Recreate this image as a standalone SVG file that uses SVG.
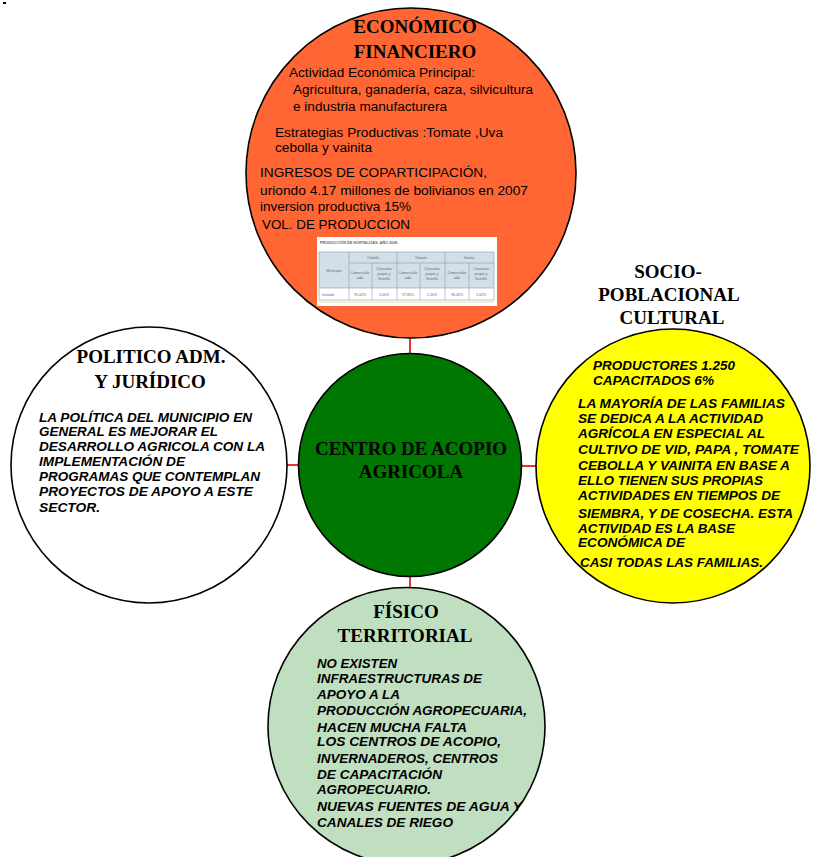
<svg xmlns="http://www.w3.org/2000/svg" width="817" height="857" viewBox="0 0 817 857">
<style>
.node{stroke:#000;stroke-width:1.6}
.title{font-family:"Liberation Serif","Times New Roman",serif;font-weight:bold;font-size:19px;fill:#000;text-anchor:middle}
.body{font-family:"Liberation Sans",Arial,sans-serif;font-size:12px;fill:#000}
.bi{font-family:"Liberation Sans",Arial,sans-serif;font-size:12px;font-weight:bold;font-style:italic;fill:#000}
.conn{stroke:#E00000;stroke-width:1.6;fill:none}
.tiny{font-family:"Liberation Sans",Arial,sans-serif;font-size:3.6px;fill:#6a6a6a;text-anchor:middle}
.tb{fill:none;stroke:#8a9aaa;stroke-width:0.6}
</style>
<rect width="817" height="857" fill="#fff"/>
<rect x="3" y="2" width="3" height="2" fill="#000"/>
<g id="connectors">
<line class="conn" x1="410" y1="337" x2="410" y2="354"/>
<line class="conn" x1="287" y1="465" x2="299" y2="465"/>
<line class="conn" x1="521" y1="466" x2="537" y2="466"/>
<line class="conn" x1="410" y1="576" x2="410" y2="588"/>
</g>
<g id="economico">
<circle class="node" cx="411" cy="173" r="165" fill="#FF6633"/>
<text class="title" x="415" y="33">ECONÓMICO</text>
<text class="title" x="415" y="58">FINANCIERO</text>
<text class="body" x="289" y="77" textLength="186" lengthAdjust="spacingAndGlyphs">Actividad Económica Principal:</text>
<text class="body" x="293" y="94" textLength="240" lengthAdjust="spacingAndGlyphs">Agricultura, ganadería, caza, silvicultura</text>
<text class="body" x="293" y="111" textLength="154" lengthAdjust="spacingAndGlyphs">e industria manufacturera</text>
<text class="body" x="275" y="137" textLength="228" lengthAdjust="spacingAndGlyphs">Estrategias Productivas :Tomate ,Uva</text>
<text class="body" x="275" y="152" textLength="97" lengthAdjust="spacingAndGlyphs">cebolla y vainita</text>
<text class="body" x="260" y="177" textLength="227" lengthAdjust="spacingAndGlyphs">INGRESOS DE COPARTICIPACIÓN,</text>
<text class="body" x="260" y="195" textLength="268" lengthAdjust="spacingAndGlyphs">uriondo 4.17 millones de bolivianos en 2007</text>
<text class="body" x="260" y="211" textLength="151" lengthAdjust="spacingAndGlyphs">inversion productiva 15%</text>
<text class="body" x="262" y="229" textLength="148" lengthAdjust="spacingAndGlyphs">VOL. DE PRODUCCION</text>
<g id="tabla">
<rect x="317" y="237" width="180" height="69" fill="#fff"/>
<text x="320" y="244" style="font-family:'Liberation Sans',Arial,sans-serif;font-size:3.8px;font-weight:bold;fill:#666">PRODUCCIÓN DE HORTALIZAS, AÑO 2008</text>
<rect x="319" y="252" width="175" height="36" fill="#D2DEE9"/>
<rect x="319" y="252" width="175" height="48" class="tb"/>
<line class="tb" x1="319" y1="288" x2="494" y2="288"/>
<line class="tb" x1="349" y1="252" x2="349" y2="300"/>
<line class="tb" x1="397" y1="252" x2="397" y2="300"/>
<line class="tb" x1="445" y1="252" x2="445" y2="300"/>
<line class="tb" x1="372" y1="263" x2="372" y2="300"/>
<line class="tb" x1="420" y1="263" x2="420" y2="300"/>
<line class="tb" x1="469" y1="263" x2="469" y2="300"/>
<line class="tb" x1="349" y1="263" x2="494" y2="263"/>
<line x1="319" y1="302" x2="494" y2="302" stroke="#e6e0a8" stroke-width="1"/>
<text class="tiny" x="334" y="272">Municipio</text>
<text class="tiny" x="373" y="259">Cebolla</text>
<text class="tiny" x="421" y="259">Tomate</text>
<text class="tiny" x="469" y="259">Vainita</text>
<text class="tiny" x="360" y="274">Comercializ<tspan x="360" dy="5">ado</tspan></text>
<text class="tiny" x="384" y="270">Consumo<tspan x="384" dy="5">propio y</tspan><tspan x="384" dy="5">Semilla</tspan></text>
<text class="tiny" x="408" y="274">Comercializ<tspan x="408" dy="5">ado</tspan></text>
<text class="tiny" x="432" y="270">Consumo<tspan x="432" dy="5">propio y</tspan><tspan x="432" dy="5">Semilla</tspan></text>
<text class="tiny" x="457" y="274">Comercializ<tspan x="457" dy="5">ado</tspan></text>
<text class="tiny" x="481" y="270">Consumo<tspan x="481" dy="5">propio y</tspan><tspan x="481" dy="5">Semilla</tspan></text>
<text class="tiny" x="328" y="296">Uriondo</text>
<text class="tiny" x="360" y="296">95,00%</text>
<text class="tiny" x="384" y="296">5,00%</text>
<text class="tiny" x="408" y="296">97,80%</text>
<text class="tiny" x="432" y="296">2,20%</text>
<text class="tiny" x="457" y="296">98,00%</text>
<text class="tiny" x="481" y="296">2,00%</text>
</g>
</g>
<g id="socio">
<circle class="node" cx="673" cy="466" r="137" fill="#FFFF00"/>
<text class="title" x="668" y="278">SOCIO-</text>
<text class="title" x="669" y="301">POBLACIONAL</text>
<text class="title" x="672" y="324">CULTURAL</text>
<text class="bi" x="593" y="370" textLength="142" lengthAdjust="spacingAndGlyphs">PRODUCTORES 1.250</text>
<text class="bi" x="593" y="385" textLength="121" lengthAdjust="spacingAndGlyphs">CAPACITADOS 6%</text>
<text class="bi" x="578" y="408" textLength="207" lengthAdjust="spacingAndGlyphs">LA MAYORÍA DE LAS FAMILIAS</text>
<text class="bi" x="578" y="423" textLength="185" lengthAdjust="spacingAndGlyphs">SE DEDICA A LA ACTIVIDAD</text>
<text class="bi" x="578" y="438" textLength="187" lengthAdjust="spacingAndGlyphs">AGRÍCOLA EN ESPECIAL AL</text>
<text class="bi" x="578" y="454" textLength="221" lengthAdjust="spacingAndGlyphs">CULTIVO DE VID, PAPA , TOMATE</text>
<text class="bi" x="578" y="470" textLength="212" lengthAdjust="spacingAndGlyphs">CEBOLLA Y VAINITA EN BASE A</text>
<text class="bi" x="578" y="485" textLength="185" lengthAdjust="spacingAndGlyphs">ELLO TIENEN SUS PROPIAS</text>
<text class="bi" x="578" y="500" textLength="202" lengthAdjust="spacingAndGlyphs">ACTIVIDADES EN TIEMPOS DE</text>
<text class="bi" x="578" y="518" textLength="215" lengthAdjust="spacingAndGlyphs">SIEMBRA, Y DE COSECHA. ESTA</text>
<text class="bi" x="578" y="533" textLength="157" lengthAdjust="spacingAndGlyphs">ACTIVIDAD ES LA BASE</text>
<text class="bi" x="578" y="547" textLength="107" lengthAdjust="spacingAndGlyphs">ECONÓMICA DE</text>
<text class="bi" x="580" y="567" textLength="183" lengthAdjust="spacingAndGlyphs">CASI TODAS LAS FAMILIAS.</text>
</g>
<g id="politico">
<circle class="node" cx="149" cy="465" r="138" fill="#fff"/>
<text class="title" x="151" y="363">POLITICO ADM.</text>
<text class="title" x="150" y="388">Y JURÍDICO</text>
<text class="bi" x="39" y="422" textLength="213" lengthAdjust="spacingAndGlyphs">LA POLÍTICA DEL MUNICIPIO EN</text>
<text class="bi" x="39" y="436" textLength="179" lengthAdjust="spacingAndGlyphs">GENERAL ES MEJORAR EL</text>
<text class="bi" x="39" y="451" textLength="226" lengthAdjust="spacingAndGlyphs">DESARROLLO AGRICOLA CON LA</text>
<text class="bi" x="39" y="466" textLength="146" lengthAdjust="spacingAndGlyphs">IMPLEMENTACIÓN DE</text>
<text class="bi" x="39" y="481" textLength="221" lengthAdjust="spacingAndGlyphs">PROGRAMAS QUE CONTEMPLAN</text>
<text class="bi" x="39" y="496" textLength="214" lengthAdjust="spacingAndGlyphs">PROYECTOS DE APOYO A ESTE</text>
<text class="bi" x="39" y="512" textLength="61" lengthAdjust="spacingAndGlyphs">SECTOR.</text>
</g>
<g id="centro">
<circle class="node" cx="410" cy="465" r="111.5" fill="#007700"/>
<text class="title" x="411" y="455">CENTRO DE ACOPIO</text>
<text class="title" x="411" y="478">AGRICOLA</text>
</g>
<g id="fisico">
<circle class="node" cx="406.5" cy="726" r="138.5" fill="#C0DEC0"/>
<text class="title" x="406" y="618">FÍSICO</text>
<text class="title" x="405" y="642">TERRITORIAL</text>
<text class="bi" x="317" y="668" textLength="80" lengthAdjust="spacingAndGlyphs">NO EXISTEN</text>
<text class="bi" x="317" y="683" textLength="165" lengthAdjust="spacingAndGlyphs">INFRAESTRUCTURAS DE</text>
<text class="bi" x="317" y="699" textLength="83" lengthAdjust="spacingAndGlyphs">APOYO A LA</text>
<text class="bi" x="317" y="715" textLength="210" lengthAdjust="spacingAndGlyphs">PRODUCCIÓN AGROPECUARIA,</text>
<text class="bi" x="317" y="732" textLength="150" lengthAdjust="spacingAndGlyphs">HACEN MUCHA FALTA</text>
<text class="bi" x="317" y="746" textLength="184" lengthAdjust="spacingAndGlyphs">LOS CENTROS DE ACOPIO,</text>
<text class="bi" x="317" y="763" textLength="181" lengthAdjust="spacingAndGlyphs">INVERNADEROS, CENTROS</text>
<text class="bi" x="317" y="779" textLength="125" lengthAdjust="spacingAndGlyphs">DE CAPACITACIÓN</text>
<text class="bi" x="317" y="794" textLength="114" lengthAdjust="spacingAndGlyphs">AGROPECUARIO.</text>
<text class="bi" x="317" y="811" textLength="205" lengthAdjust="spacingAndGlyphs">NUEVAS FUENTES DE AGUA Y</text>
<text class="bi" x="317" y="827" textLength="136" lengthAdjust="spacingAndGlyphs">CANALES DE RIEGO</text>
</g>
</svg>
